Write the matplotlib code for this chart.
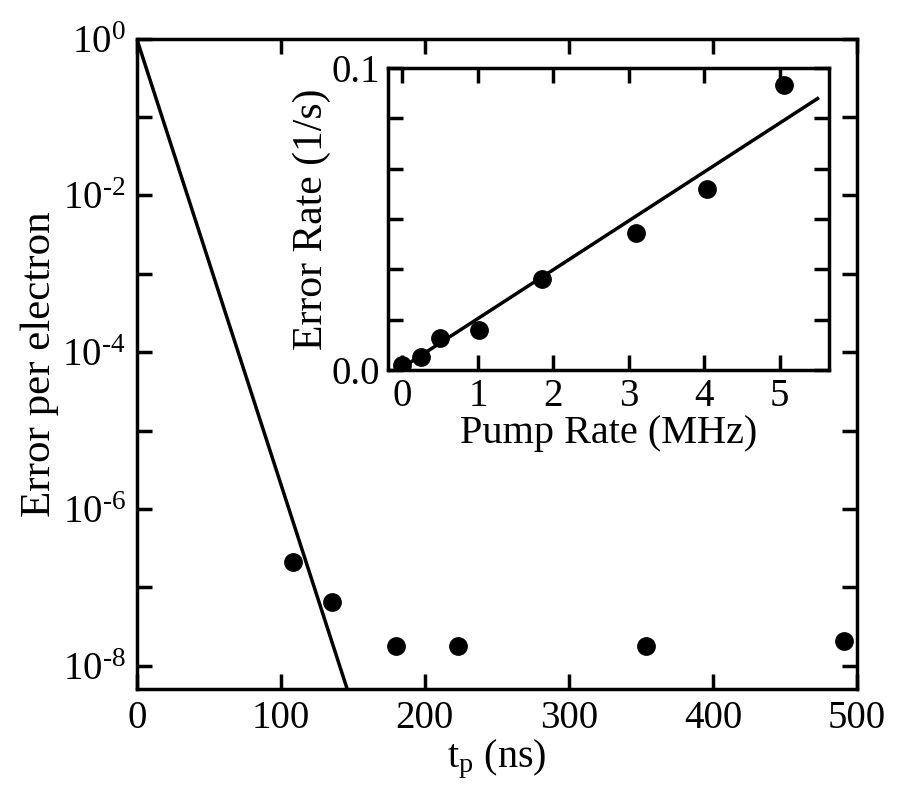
import numpy as np
import matplotlib
matplotlib.use("Agg")
import matplotlib.pyplot as plt
from matplotlib.ticker import FixedLocator, NullLocator

plt.rcParams["font.family"] = ["Liberation Serif", "DejaVu Serif"]
plt.rcParams["mathtext.fontset"] = "custom"
plt.rcParams["mathtext.rm"] = "Liberation Serif"
plt.rcParams["mathtext.it"] = "Liberation Serif:italic"

# Main panel: error per electron versus pump time
tp_ns = [108.5, 135.7, 179.8, 222.8, 353.5, 491.0]
error_per_electron = [2.1e-7, 6.5e-8, 1.8e-8, 1.8e-8, 1.75e-8, 2.05e-8]
decades_per_ns = 1 / 17.6          # slope of the exponential model line

# Inset: error rate versus pump rate
pump_mhz = [0.0, 0.25, 0.5, 1.01, 1.85, 3.09, 4.03, 5.05]
error_rate = [0.0015, 0.0042, 0.0105, 0.0132, 0.030, 0.0455, 0.0601, 0.0944]
fit_slope = 0.0162
fit_offset = 0.0008

main_xticks = [0, 100, 200, 300, 400, 500]
main_yexp = [0, -1, -2, -3, -4, -5, -6, -7, -8]
inset_xticks = [0, 1, 2, 3, 4, 5]

LW = 2.5
FS = 29
TFS = 28
fig = plt.figure(figsize=(9.24, 7.92), dpi=100)
ax = fig.add_axes([0.148, 0.130, 0.7795, 0.821])

t_line = np.linspace(0, 160, 200)
ax.plot(t_line, 10.0 ** (-decades_per_ns * t_line), color="black", lw=LW)
ax.plot(tp_ns, error_per_electron, "o", color="black", ms=12.5)
ax.set_yscale("log")
ax.set_xlim(0, 500)
ax.set_ylim(10 ** -8.3, 1.0)
ax.xaxis.set_major_locator(FixedLocator(main_xticks))
ax.yaxis.set_major_locator(FixedLocator([10.0 ** e for e in main_yexp]))
ax.yaxis.set_minor_locator(NullLocator())
ax.set_yticklabels([(r"$10^{\text{%d}}$" % e) if e % 2 == 0 else ""
                    for e in main_yexp])
ax.tick_params(which="both", direction="in", length=11, width=LW,
               top=True, right=True, labelsize=TFS, pad=8)
for s in ax.spines.values():
    s.set_linewidth(LW)
ax.set_xlabel(r"$\mathregular{t_p}$ (ns)", fontsize=FS, labelpad=0)
ax.set_ylabel("Error per electron", fontsize=31, labelpad=2)

# Inset axes
ins = fig.add_axes([0.42, 0.533, 0.477, 0.381])
ins.plot(pump_mhz, error_rate, "o", color="black", ms=12.5)
xf = np.array([-0.05, 5.5])
ins.plot(xf, fit_slope * xf + fit_offset, color="black", lw=LW)
ins.set_xlim(-0.19, 5.65)
ins.set_ylim(0, 0.1)
ins.xaxis.set_major_locator(FixedLocator(inset_xticks))
yt = np.linspace(0, 0.1, 7)
ins.yaxis.set_major_locator(FixedLocator(yt))
ins.set_yticklabels(["0.0", "", "", "", "", "", "0.1"])
ins.tick_params(direction="in", length=11, width=LW, top=True, right=True,
                labelsize=TFS, pad=6)
for s in ins.spines.values():
    s.set_linewidth(LW)
ins.set_xlabel("Pump Rate (MHz)", fontsize=FS, labelpad=0)
ins.set_ylabel("Error Rate (1/s)", fontsize=30, labelpad=0)

fig.savefig("out.png", dpi=100, facecolor="white")
